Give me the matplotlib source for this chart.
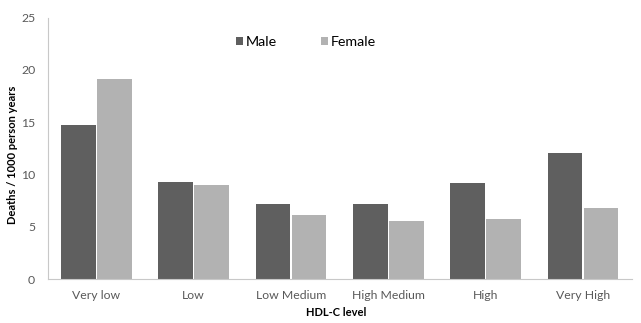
import numpy as np
import matplotlib.pyplot as plt

# data
levels = ["Very low", "Low", "Low Medium", "High Medium", "High", "Very High"]
male = [14.7, 9.3, 7.2, 7.2, 9.2, 12.1]
female = [19.1, 9.0, 6.1, 5.6, 5.8, 6.8]

plt.rcParams['font.family'] = ['Lato', 'DejaVu Sans']

fig = plt.figure(figsize=(6.41, 3.23), dpi=100)
ax = fig.add_axes([0.0744, 0.1353, 0.9111, 0.8105])

x = np.arange(len(levels))
w = 0.355
ax.bar(x - w / 2 - 0.007, male, w, color="#5f5f5f", label="Male")
ax.bar(x + w / 2 + 0.007, female, w, color="#b2b2b2", label="Female")

ax.set_xlim(-0.5, len(levels) - 0.5)
ax.set_ylim(0, 25)
ax.set_yticks([0, 5, 10, 15, 20, 25])
ax.set_xticks(x)
ax.set_xticklabels(levels)
ax.tick_params(length=0, labelsize=8.8, colors="#595959", pad=8)
ax.tick_params(axis="y", pad=9)

for s in ["top", "right"]:
    ax.spines[s].set_visible(False)
ax.spines["left"].set_color("#c8c8c8")
ax.spines["bottom"].set_color("#c8c8c8")

ax.set_xlabel("HDL-C level", fontsize=8, fontweight="bold")
ax.set_ylabel("Deaths / 1000 person years", fontsize=8, fontweight="bold")
ax.xaxis.set_label_coords(0.494, -0.105)
ax.yaxis.set_label_coords(-0.051, 0.475)

ax.legend(loc="center", bbox_to_anchor=(0.442, 0.906), ncol=2, frameon=False,
          fontsize=10.3, handlelength=0.5, handleheight=0.5, handletextpad=0.15,
          columnspacing=3.1)

fig.savefig("out.png", dpi=100)
